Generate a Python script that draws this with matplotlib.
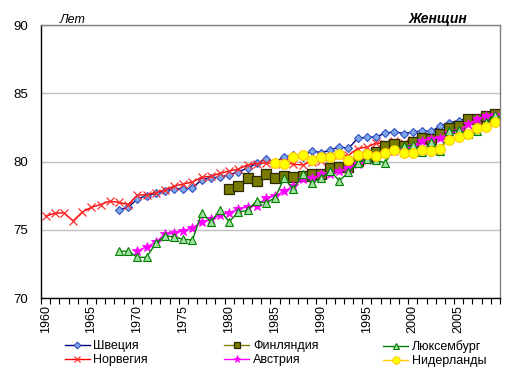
import matplotlib
matplotlib.use("Agg")
import matplotlib.pyplot as plt
from matplotlib.ticker import MultipleLocator

plt.rcParams['font.family'] = ['Liberation Sans', 'DejaVu Sans']

# life expectancy of women, years
norway_years = list(range(1960, 2010))
norway = [76.0, 76.2, 76.25, 75.65, 76.3, 76.65, 76.85, 77.1, 77.0, 76.85,
          77.55, 77.55, 77.72, 77.9, 78.2, 78.35, 78.5, 78.85, 78.92, 79.13,
          79.3, 79.45, 79.75, 79.85, 79.9, 79.85, 79.95, 79.8, 79.75, 80.0,
          80.05, 80.3, 80.45, 80.45, 80.95, 81.05, 81.35, 81.3, 81.5, 81.35,
          81.55, 81.7, 81.6, 82.0, 82.35, 82.5, 82.7, 82.75, 83.05, 83.2]

sweden_years = list(range(1968, 2010))
sweden = [76.45, 76.65, 77.25, 77.5, 77.67, 77.85, 78.0, 78.02, 78.04, 78.68,
          78.8, 78.86, 79.02, 79.26, 79.5, 79.88, 80.17, 79.95, 80.35, 80.45,
          80.3, 80.8, 80.65, 80.82, 81.08, 80.96, 81.7, 81.78, 81.8, 82.08,
          82.18, 82.05, 82.15, 82.25, 82.2, 82.6, 82.84, 83.0, 83.15, 83.15,
          83.3, 83.55]

finland_years = list(range(1980, 2010))
finland = [77.95, 78.24, 78.8, 78.56, 79.05, 78.8, 78.97, 78.9, 78.95, 79.05,
           79.08, 79.5, 79.57, 79.6, 80.05, 80.3, 80.7, 81.1, 81.3, 81.15,
           81.43, 81.74, 81.67, 81.98, 82.46, 82.63, 83.15, 83.15, 83.3, 83.47]

austria_years = list(range(1970, 2010))
austria = [73.48, 73.73, 74.1, 74.68, 74.75, 74.93, 75.15, 75.55, 75.76, 76.1,
           76.25, 76.5, 76.68, 76.75, 77.33, 77.47, 77.83, 78.2, 78.72, 78.8,
           79.05, 79.1, 79.3, 79.56, 79.85, 80.1, 80.37, 80.59, 80.8, 80.95,
           81.15, 81.5, 81.68, 81.7, 82.12, 82.25, 82.73, 83.1, 83.35, 83.4]

luxembourg_years = list(range(1968, 2010))
luxembourg = [73.43, 73.43, 72.98, 72.98, 74.0, 74.55, 74.48, 74.3, 74.25, 76.2,
              75.6, 76.42, 75.58, 76.3, 76.42, 77.12, 76.95, 77.36, 78.78, 77.96,
              79.08, 78.41, 78.78, 79.3, 78.6, 79.2, 79.9, 80.2, 80.1, 79.9,
              81.0, 81.1, 81.2, 80.7, 81.4, 80.8, 82.2, 82.3, 82.0, 82.2,
              82.9, 83.4]

netherlands_years = list(range(1985, 2010))
netherlands = [79.9, 79.82, 80.3, 80.47, 80.08, 80.3, 80.33, 80.54, 80.1, 80.46,
               80.54, 80.41, 80.6, 80.83, 80.59, 80.66, 80.83, 80.78, 80.95, 81.59,
               81.83, 82.05, 82.49, 82.56, 82.9]

label_years = list(range(1960, 2010, 5))

fig = plt.figure(figsize=(5.17, 3.75), dpi=100)
ax = fig.add_axes([0.0793, 0.2053, 0.8877, 0.728])

# series drawn in the order Excel stacks them
sw, = ax.plot(sweden_years, sweden, color="#000080", lw=1, marker="D", ms=4.5,
              mfc="#7EA6E8", mec="#3050C0", mew=0.8, label="Швеция")
no, = ax.plot(norway_years, norway, color="#FF0000", lw=1, marker="x", ms=6,
              mec="#FF3030", mew=0.9, label="Норвегия")
fi, = ax.plot(finland_years, finland, color="#808000", lw=1, marker="s", ms=6.5,
              mfc="#7A7A00", mec="#2A2A00", mew=0.9, label="Финляндия")
au, = ax.plot(austria_years, austria, color="#FF00FF", lw=1, marker="*", ms=7,
              mfc="#FF00FF", mec="#FF00FF", mew=0.6, label="Австрия")
lu, = ax.plot(luxembourg_years, luxembourg, color="#008000", lw=1, marker="^", ms=6,
              mfc="#A0E0A0", mec="#008000", mew=0.8, label="Люксембург")
ne, = ax.plot(netherlands_years, netherlands, color="#FFCC00", lw=1, marker="o", ms=7,
              mfc="#FFFF00", mec="#FFCC00", mew=0.8, label="Нидерланды")

ax.set_xlim(1959.5, 2009.5)
ax.set_ylim(70, 90)
ax.yaxis.set_major_locator(MultipleLocator(5))
ax.set_xticks(label_years)
ax.set_xticklabels([str(y) for y in label_years], rotation=90, fontsize=9)
ax.xaxis.set_minor_locator(MultipleLocator(1, offset=0.5))
ax.tick_params(axis="x", which="major", length=0, pad=5)
ax.tick_params(axis="x", which="minor", length=4, width=0.8, direction="out")
ax.tick_params(axis="y", length=0, labelsize=9.5, pad=9)

ax.grid(axis="y", color="#C0C0C0", lw=1)
ax.set_axisbelow(True)
ax.spines["left"].set_color("black")
ax.spines["bottom"].set_color("black")
ax.spines["top"].set_color("#808080")
ax.spines["right"].set_color("#808080")
for s in ax.spines.values():
    s.set_linewidth(1)

ax.text(0.041, 0.998, "Лет", transform=ax.transAxes, fontsize=9,
        style="italic", ha="left", va="bottom")
ax.text(0.928, 0.998, "Женщин", transform=ax.transAxes, fontsize=10,
        style="italic", weight="bold", ha="right", va="bottom")

# legend in three columns, like the Excel one
columns = [([sw, no], 0.113), ([fi, au], 0.422), ([lu, ne], 0.729)]
for handles, x in columns:
    fig.legend(handles=handles, loc="upper left", bbox_to_anchor=(x, 0.11),
               frameon=False, fontsize=9, handlelength=2.0, handletextpad=0.3,
               labelspacing=0.2, borderpad=0, markerscale=0.75)

fig.savefig("out.png", dpi=100)
